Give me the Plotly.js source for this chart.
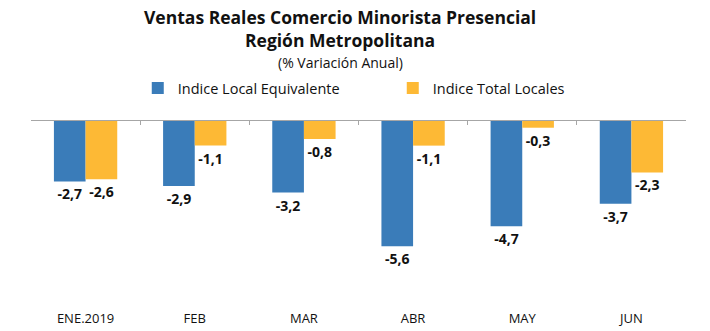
<!DOCTYPE html>
<html>
<head>
<meta charset="utf-8">
<script src="https://cdn.plot.ly/plotly-3.0.1.min.js"></script>
<style>html,body{margin:0;padding:0;background:#fff;}#chart{width:710px;height:331px;}</style>
</head>
<body>
<div id="chart"></div>
<script>
const categories = ["ENE.2019", "FEB", "MAR", "ABR", "MAY", "JUN"];
const seriesNames = ["Indice Local Equivalente", "Indice Total Locales"];
const localEquivalente = [-2.7, -2.9, -3.2, -5.6, -4.7, -3.7];
const totalLocales = [-2.6, -1.1, -0.8, -1.1, -0.3, -2.3];

const FONT = "Open Sans, Noto Sans, sans-serif";
const fmt = v => v.toFixed(1).replace('.', ',');

const traces = [
  {
    type: 'bar', name: seriesNames[0], x: categories, y: localEquivalente,
    marker: {color: '#3A7CB9'},
    text: localEquivalente.map(fmt), textposition: 'outside', cliponaxis: false,
    textfont: {family: FONT, size: 14, color: '#111', weight: 'bold'}
  },
  {
    type: 'bar', name: seriesNames[1], x: categories, y: totalLocales,
    marker: {color: '#FDB935'},
    text: totalLocales.map(fmt), textposition: 'outside', cliponaxis: false,
    textfont: {family: FONT, size: 14, color: '#111', weight: 'bold'}
  },
  {
    // helper trace so the top category-boundary axis is drawn
    type: 'scatter', mode: 'markers', x: [0], y: [0], xaxis: 'x2', yaxis: 'y',
    marker: {opacity: 0}, showlegend: false, hoverinfo: 'skip'
  }
];

const layout = {
  width: 710, height: 331,
  margin: {l: 31, r: 24, t: 121, b: 22},
  paper_bgcolor: '#fff', plot_bgcolor: '#fff',
  font: {family: FONT, color: '#111'},
  barmode: 'group', bargap: 0.42, bargroupgap: 0,
  showlegend: true,
  legend: {
    orientation: 'h', x: 0.163, xanchor: 'left', y: 1.175, yanchor: 'middle',
    font: {family: FONT, size: 14.5, color: '#111'},
    entrywidth: 210, entrywidthmode: 'pixels', bgcolor: 'rgba(0,0,0,0)'
  },
  xaxis: {
    type: 'category', range: [-0.5, 5.5], showline: false, ticks: '',
    showgrid: false, zeroline: false,
    tickfont: {family: FONT, size: 13, color: '#111'}, automargin: false
  },
  xaxis2: {
    overlaying: 'x', side: 'top', anchor: 'y', range: [-0.5, 5.5],
    showline: true, linecolor: '#A6A6A6', linewidth: 1,
    ticks: 'inside', ticklen: 4, tickcolor: '#A6A6A6',
    tickmode: 'array', tickvals: [-0.5, 0.5, 1.5, 2.5, 3.5, 4.5, 5.5],
    showticklabels: false, showgrid: false, zeroline: false
  },
  yaxis: {
    range: [-8.4, 0], visible: false, showgrid: false, zeroline: false, fixedrange: true
  },
  annotations: [
    {text: '<b>Ventas Reales Comercio Minorista Presencial</b>', xref: 'paper', yref: 'paper',
     x: 0.472, y: 1.553, xanchor: 'center', yanchor: 'middle', showarrow: false,
     font: {family: FONT, size: 17.5, color: '#111'}},
    {text: '<b>Región Metropolitana</b>', xref: 'paper', yref: 'paper',
     x: 0.472, y: 1.43, xanchor: 'center', yanchor: 'middle', showarrow: false,
     font: {family: FONT, size: 17.5, color: '#111'}},
    {text: '(% Variación Anual)', xref: 'paper', yref: 'paper',
     x: 0.472, y: 1.313, xanchor: 'center', yanchor: 'middle', showarrow: false,
     font: {family: FONT, size: 14, color: '#111'}}
  ]
};

Plotly.newPlot('chart', traces, layout, {displayModeBar: false, staticPlot: true});
</script>
</body>
</html>
